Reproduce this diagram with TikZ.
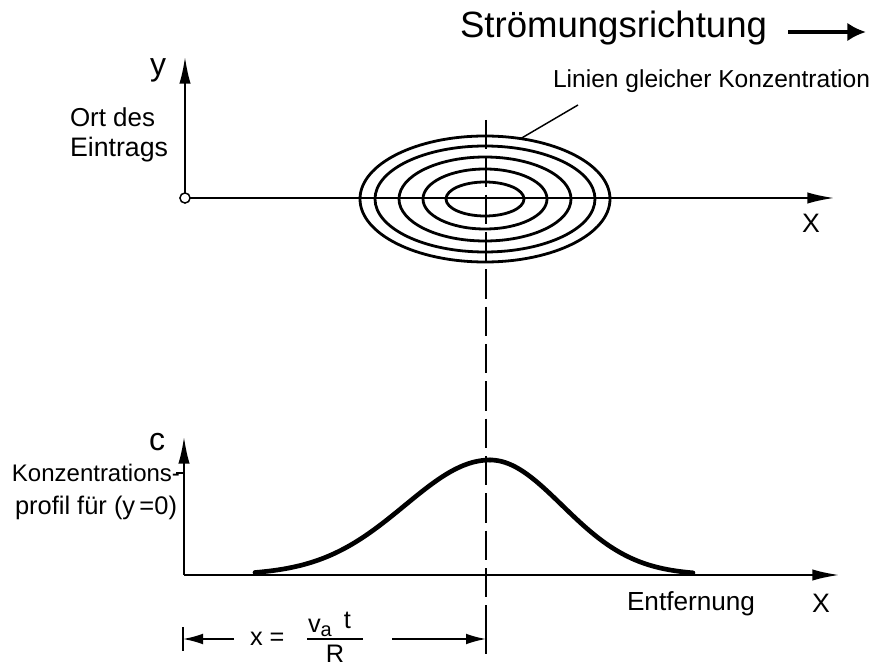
\documentclass[tikz,border=0pt]{standalone}
\usepackage{graphicx}
\usepackage{fontspec}
\setmainfont{Liberation Sans}
\usetikzlibrary{arrows.meta}
\newdimen\pxu \pxu=0.75pt
\newcommand{\fitw}[2]{\resizebox{#1\pxu}{!}{#2}}
\begin{document}
\begin{tikzpicture}[x=0.75pt,y=-0.75pt,
  axis/.style={line width=1.3pt,-{Latex[length=20pt,width=8.5pt]}},
  ell/.style={line width=2.1pt},
  thin/.style={line width=1.1pt},
  dimarrow/.style={line width=1.1pt,-{Latex[length=15pt,width=8pt]}},
  lbl/.style={inner sep=0pt,outer sep=0pt},
  curve/.style={line width=3.5pt,line cap=round},
  dashline/.style={line width=1.2pt,dash pattern=on 22pt off 6pt}]
\useasboundingbox (0,0) rectangle (875,666);

% flow direction
\node[lbl,anchor=base west] (sr) at (460,38) {\fitw{307}{Strömungsrichtung}};
\coordinate (sra) at (788,32);
\coordinate (srb) at (866,32);
\draw[line width=3.2pt,-{Latex[length=14pt,width=14pt]}] (sra) -- (srb);

% upper diagram
\coordinate (O) at (185,198);
\coordinate (ytip) at (185,57);
\coordinate (xtip) at (834,198);
\draw[thin] (O) circle[radius=3.8pt];
\draw[axis] ([yshift=3.8pt]O) -- (ytip);
\draw[axis] ([xshift=3.8pt]O) -- (xtip);
\node[lbl] (ylab) at (158,70) {\fontsize{24}{24}\selectfont y};
\node[lbl,anchor=base west] (xtop) at (802,233) {\fontsize{20}{20}\selectfont X};
\node[lbl,anchor=base west] (ort) at (70,127) {\fitw{85}{Ort des}};
\node[lbl,anchor=base west] (ein) at (70,157) {\fitw{98}{Eintrags}};

% concentration lines
\coordinate (E) at (485,199);
\draw[ell] (E) ellipse [x radius=93.75pt, y radius=47.25pt];
\draw[ell] (E) ellipse [x radius=82.5pt, y radius=39.75pt];
\draw[ell] (E) ellipse [x radius=64.5pt, y radius=31.5pt];
\draw[ell] (E) ellipse [x radius=46.5pt, y radius=22.5pt];
\draw[ell] (E) ellipse [x radius=29.25pt, y radius=12.75pt];
\node[lbl,anchor=base west] (lin) at (553,88) {\fitw{317}{Linien gleicher Konzentration}};
\coordinate (la) at (520,139);
\coordinate (lb) at (578,105);
\draw[thin] (la) -- (lb);

% dashed vertical line
\coordinate (da) at (486,120);
\coordinate (db) at (486,627);
\draw[dashline] (da) -- (db);

% lower diagram
\coordinate (O2) at (184,575);
\coordinate (ctip) at (184,437);
\coordinate (x2tip) at (839,575);
\draw[axis] (O2) -- (ctip);
\draw[axis] (O2) -- (x2tip);
\node[lbl] (clab) at (157,442) {\fontsize{24}{24}\selectfont c};
\node[lbl,anchor=base west] (konz) at (12,482) {\fitw{168}{Konzentrations-}};
\coordinate (ka) at (176,473);
\coordinate (kb) at (184,473);
\draw[thin] (ka) -- (kb);
\node[lbl,anchor=base west] (prof) at (15,514) {\fitw{162}{profil für (y\,=0)}};
\node[lbl,anchor=base west] (entf) at (627,610) {\fitw{128}{Entfernung}};
\node[lbl,anchor=base west] (xbot) at (812,612) {\fontsize{20}{20}\selectfont X};

% profile curve
\draw[curve] plot[domain=255:490,samples=80] (\x,{575-115*exp(-((\x-490)/85)^2/2)});
\draw[curve] plot[domain=490:693,samples=80] (\x,{575-115*exp(-((\x-490)/72)^2/2)});

% dimension
\coordinate (dl) at (183,639);
\coordinate (dla) at (234,639);
\coordinate (drb) at (392,639);
\coordinate (dr) at (486,639);
\coordinate (bl1) at (183,627);
\coordinate (bl2) at (183,651);
\coordinate (br1) at (486,627);
\coordinate (br2) at (486,654);
\draw[thin] (bl1) -- (bl2);
\draw[thin] (br1) -- (br2);
\draw[dimarrow] (dla) -- (dl);
\draw[dimarrow] (drb) -- (dr);
\node[lbl,anchor=base west] (xeq) at (250,645) {\fontsize{19}{19}\selectfont x =};
\coordinate (fa) at (307,639);
\coordinate (fb) at (363,639);
\draw[thin] (fa) -- (fb);
\node[lbl,anchor=base west] (num) at (308,632) {\fontsize{19}{19}\selectfont v\raisebox{-3pt}{\fontsize{15}{15}\selectfont a}\hspace{9pt}\raisebox{3pt}{t}};
\node[lbl,anchor=base] (den) at (335,662) {\fontsize{19}{19}\selectfont R};
\end{tikzpicture}
\end{document}
